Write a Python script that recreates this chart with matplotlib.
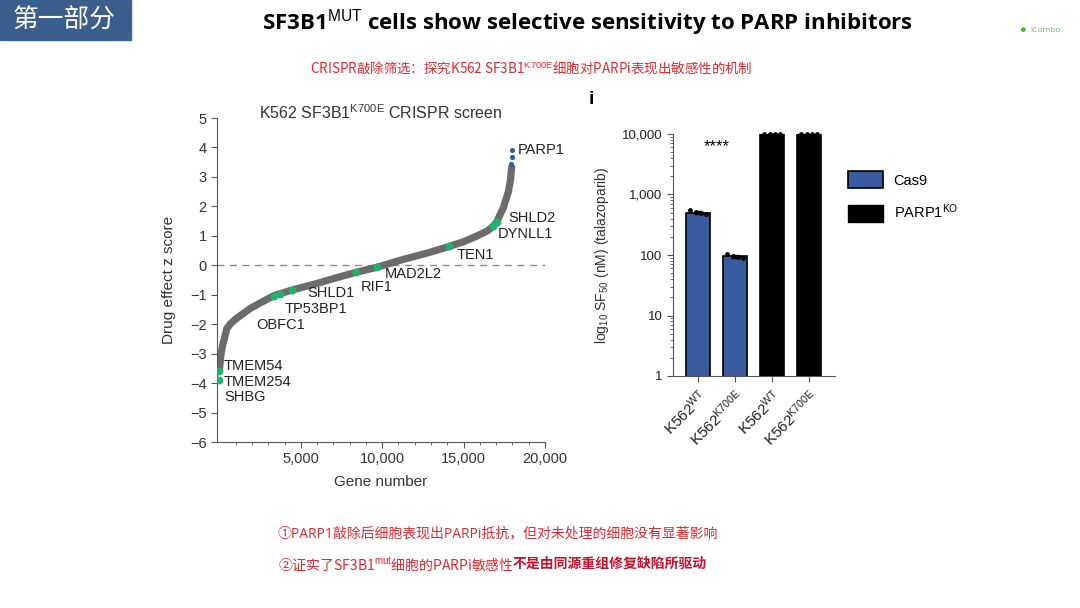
import numpy as np
import matplotlib.pyplot as plt
from matplotlib.patches import Rectangle, Patch
from matplotlib.ticker import FuncFormatter, FixedLocator, LogLocator, NullFormatter

plt.rcParams['font.family'] = ['Liberation Sans', 'DejaVu Sans']
plt.rcParams['mathtext.fontset'] = 'custom'
plt.rcParams['mathtext.rm'] = 'Liberation Sans'
plt.rcParams['mathtext.it'] = 'Liberation Sans:italic'
plt.rcParams['mathtext.bf'] = 'Liberation Sans:bold'
cjk = ['Open Sans', 'Noto Sans CJK SC', 'DejaVu Sans']
cjk_math = ['Noto Sans CJK SC', 'DejaVu Sans']  # texte avec $...$ : pas de repli

### Données : criblage CRISPR (rang du gène, z score)
curve_rank = [0, 40, 100, 200, 300, 450, 700, 1060, 1880, 2600, 3350, 4460,
              5980, 7200, 8390, 9660, 11300, 12800, 14120, 15000, 15800,
              16500, 16820, 17030, 17440, 17750, 17880, 17950]
curve_z = [-3.55, -3.3, -3.0, -2.7, -2.5, -2.15, -1.97, -1.8, -1.47, -1.25,
           -1.03, -0.84, -0.62, -0.42, -0.24, -0.07, 0.2, 0.42, 0.64, 0.8,
           0.99, 1.18, 1.33, 1.47, 1.95, 2.5, 2.9, 3.33]

hit_rank = [0, 0, 3350, 3720, 4460, 8390, 9660, 14120, 16820, 17030]
hit_z = [-3.6, -3.88, -1.03, -0.97, -0.83, -0.24, -0.07, 0.64, 1.33, 1.47]

parp1_rank = [17940, 17950, 17960]
parp1_z = [3.44, 3.67, 3.9]

gene_labels = ['PARP1', 'SHLD2', 'DYNLL1', 'TEN1', 'MAD2L2', 'RIF1', 'SHLD1',
               'TP53BP1', 'OBFC1', 'TMEM54', 'TMEM254', 'SHBG']
# position des étiquettes (mise en page)
label_pos = [(18340, 3.9), (17730, 1.6), (17110, 1.06), (14580, 0.35),
             (10170, -0.31), (8680, -0.74), (5400, -0.94), (4030, -1.5),
             (2250, -2.04), (280, -3.43), (280, -3.96), (280, -4.47)]

### Données : SF50 talazoparib (nM)
bar_labels = ['K562$^{\\mathrm{WT}}$', 'K562$^{\\mathrm{K700E}}$',
              'K562$^{\\mathrm{WT}}$', 'K562$^{\\mathrm{K700E}}$']
bar_group = ['Cas9', 'Cas9', 'PARP1KO', 'PARP1KO']
replicates = [[545, 510, 490, 470],
              [105, 96, 92, 88],
              [10000, 10000, 10000, 10000],
              [10000, 10000, 10000, 10000]]

blue = '#3A5BA0'
green = '#1FB36E'
grey = '#6B6B6B'
axc = '#555555'

fig = plt.figure(figsize=(10.8, 6.08), dpi=100)

# en-tête de la diapo
fig.patches.append(Rectangle((0, 1 - 40 / 608), 131 / 1080, 40 / 608,
                             transform=fig.transFigure, color='#3B5E8C', zorder=0))
fig.text(64 / 1080, 1 - 21 / 608, '第一部分', family=cjk, color='white',
         fontsize=18.5, ha='center', va='center')
fig.text(588 / 1080, 1 - 23 / 608,
         'SF3B1$^{\\mathrm{MUT}}$ cells show selective sensitivity to PARP inhibitors',
         family=cjk, weight='bold', fontsize=16, ha='center', va='center')
fig.text(531 / 1080, 1 - 68 / 608,
         'CRISPR敲除筛选：探究K562 SF3B1$^{\\mathrm{K700E}}$细胞对PARPi表现出敏感性的机制',
         family=cjk_math, color='#E0282E', fontsize=9.7, ha='center', va='center')
fig.text(1030 / 1080, 1 - 30 / 608, 'iCombo', family=cjk, color='#7FB069',
         fontsize=6, ha='left', va='center')
fig.text(1022 / 1080, 1 - 30 / 608, '●', color='#5DAA3A', fontsize=8,
         ha='center', va='center')

### Panneau gauche : criblage CRISPR
ax1 = fig.add_axes([217 / 1080, 1 - 442 / 608, 328 / 1080, 324 / 608])
ax1.plot(curve_rank, curve_z, color=grey, lw=5.2, solid_capstyle='round', zorder=2)
ax1.axhline(0, color='#8A8A8A', lw=1, ls=(0, (5, 4)), zorder=1)
ax1.scatter(hit_rank, hit_z, s=32, color=green, zorder=3, linewidths=0)
ax1.scatter(parp1_rank, parp1_z, s=14, color=blue, zorder=3, linewidths=0)
for name, (gx, gy) in zip(gene_labels, label_pos):
    ax1.text(gx, gy, name, fontsize=10.5, ha='left', va='center', color='#222222')

ax1.set_xlim(-150, 20000)
ax1.set_ylim(-6, 5)
ax1.set_yticks(range(-6, 6))
ax1.xaxis.set_major_locator(FixedLocator([5000, 10000, 15000, 20000]))
ax1.xaxis.set_minor_locator(FixedLocator(range(1000, 20000, 1000)))
ax1.xaxis.set_major_formatter(FuncFormatter(lambda v, p: f'{int(v):,}'))
for s in ['top', 'right']:
    ax1.spines[s].set_visible(False)
for s in ['left', 'bottom']:
    ax1.spines[s].set_color(axc)
ax1.tick_params(colors=axc, labelcolor='#333333', labelsize=10.5, length=4)
ax1.tick_params(which='minor', colors=axc, length=2.5)
ax1.set_xlabel('Gene number', fontsize=11, color='#333333', labelpad=6)
ax1.set_ylabel('Drug effect z score', fontsize=11, color='#333333', labelpad=10)
fig.text(381 / 1080, 1 - 113 / 608, 'K562 SF3B1$^{\\mathrm{K700E}}$ CRISPR screen',
         fontsize=11.5, color='#333333', ha='center', va='center')

### Panneau droit : SF50
ax2 = fig.add_axes([673 / 1080, 1 - 376 / 608, 162 / 1080, 242 / 608])
xpos = np.arange(len(bar_labels))
means = [np.mean(r) for r in replicates]
sds = [np.std(r) for r in replicates]
cols = [blue if g == 'Cas9' else 'black' for g in bar_group]
ax2.bar(xpos, means, width=0.66, color=cols, edgecolor='black', lw=1.2, zorder=2)
ax2.errorbar(xpos[:2], means[:2], yerr=sds[:2], fmt='none', ecolor='black',
             capsize=3, lw=1, zorder=3)
offs = [-0.22, -0.07, 0.07, 0.22]
for i, r in enumerate(replicates):
    ax2.scatter(xpos[i] + np.array(offs), r, s=12, color='black', zorder=4,
                clip_on=False, linewidths=0)
ax2.text(0.5, 6300, '****', ha='center', va='center', fontsize=12)

ax2.set_yscale('log')
ax2.set_ylim(1, 10000)
ax2.set_xlim(-0.68, 3.7)
ax2.set_yticks([1, 10, 100, 1000, 10000])
ax2.set_yticklabels(['1', '10', '100', '1,000', '10,000'])
ax2.yaxis.set_minor_locator(LogLocator(base=10, subs=np.arange(2, 10)))
ax2.yaxis.set_minor_formatter(NullFormatter())
ax2.set_xticks(xpos)
ax2.set_xticklabels(bar_labels, rotation=45, ha='right', rotation_mode='anchor')
for s in ['top', 'right']:
    ax2.spines[s].set_visible(False)
for s in ['left', 'bottom']:
    ax2.spines[s].set_color(axc)
ax2.tick_params(colors=axc, labelcolor='#222222', labelsize=9.5, length=4)
ax2.tick_params(axis='x', labelsize=11)
ax2.tick_params(which='minor', colors=axc, length=2)
ax2.set_ylabel('log$_{10}$ SF$_{50}$ (nM) (talazoparib)', fontsize=10,
               color='#333333', labelpad=8)
fig.text(591 / 1080, 1 - 100 / 608, 'i', fontsize=14, weight='bold',
         ha='center', va='center')

fig.legend(handles=[Patch(facecolor=blue, edgecolor='black', lw=1.2),
                    Patch(facecolor='black', edgecolor='black')],
           labels=['Cas9', 'PARP1$^{\\mathrm{KO}}$'],
           loc='upper left', bbox_to_anchor=(841 / 1080, 1 - 164 / 608),
           frameon=False, fontsize=10.5, handlelength=2.4, handleheight=1.4,
           labelspacing=1.0, borderpad=0, handletextpad=0.7)

### Texte bas de diapo
red = '#E0282E'
fig.text(278 / 1080, 1 - 534 / 608,
         '①PARP1敲除后细胞表现出PARPi抵抗，但对未处理的细胞没有显著影响',
         family=cjk, color=red, fontsize=10, ha='left', va='center')
t1 = fig.text(278 / 1080, 1 - 564 / 608,
              '②证实了SF3B1$^{\\mathrm{mut}}$细胞的PARPi敏感性',
              family=cjk_math, color=red, fontsize=10, ha='left', va='center')
ax2.annotate('不是由同源重组修复缺陷所驱动', xy=(1, 0.5), xycoords=t1,
             xytext=(-1, 0), textcoords='offset points',
             family=cjk_math, color='#C8102E', fontsize=10, weight='bold',
             ha='left', va='center', annotation_clip=False)

fig.savefig('out.png', dpi=100)
